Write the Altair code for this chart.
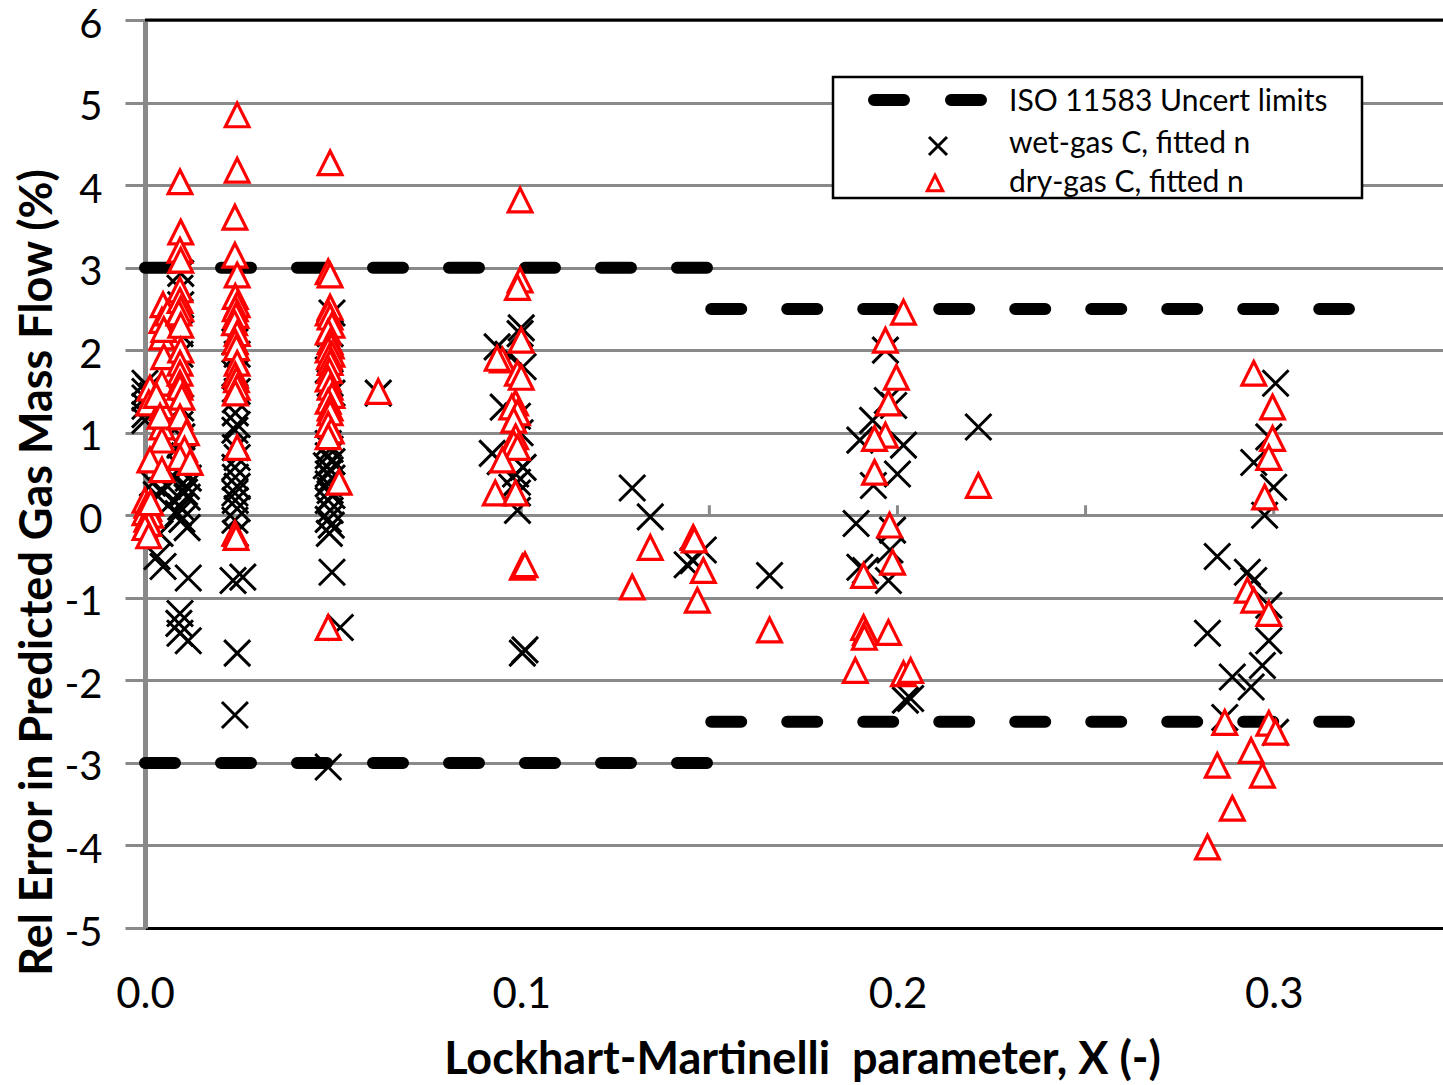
import altair as alt
import pandas as pd

# ---------------- data ----------------
wet_x = [
    0.0, 0.0, 0.0, 0.0, 0.0, 0.001, 0.002, 0.0,
    0.002, 0.0045, 0.0075, 0.0112, 0.0088, 0.0112, 0.004, 0.003, 0.006, 0.008,
    0.0032, 0.0048, 0.0115, 0.0093, 0.009, 0.0093, 0.0115,
    0.0095, 0.0093, 0.0095, 0.0093, 0.0093, 0.0095, 0.0093, 0.0098, 0.0093, 0.0105, 0.0095, 0.0115, 0.011, 0.0105, 0.0095, 0.0098,
    0.0239, 0.0245, 0.0239, 0.0245, 0.024, 0.024, 0.0245, 0.0239, 0.024, 0.0245, 0.0239, 0.024, 0.0245, 0.0239, 0.024, 0.0245, 0.0239, 0.024, 0.0234, 0.026, 0.0245, 0.0239,
    0.0497, 0.0492, 0.0487, 0.0492, 0.0497, 0.0487, 0.0492, 0.0487, 0.0497, 0.0482, 0.0492, 0.0487, 0.0497, 0.0487, 0.0492, 0.0497, 0.0487, 0.0492, 0.0487, 0.0495, 0.049, 0.0497, 0.0519, 0.0487, 0.062,
    0.1, 0.0997, 0.0936, 0.0965, 0.1005, 0.0952, 0.099, 0.0997, 0.0923, 0.0944, 0.1005, 0.0985, 0.099, 0.0975, 0.099, 0.099, 0.1003, 0.101,
    0.1295, 0.1343, 0.1441, 0.1457, 0.1484, 0.166,
    0.1968, 0.1973, 0.199, 0.1934, 0.190, 0.2016, 0.2, 0.1936, 0.189, 0.1987, 0.198, 0.190, 0.1915, 0.1976, 0.2021, 0.2035, 0.2215,
    0.3005, 0.2987, 0.2947, 0.3, 0.2976, 0.285, 0.293, 0.2947, 0.2987, 0.2824, 0.2987, 0.297, 0.289, 0.294, 0.287, 0.3005,
]
wet_y = [
    1.6, 1.5, 1.42, 1.32, 1.22, 1.55, 1.45, 1.15,
    0.39, 0.3, 0.18, 0.22, 0.02, -0.15, -0.22, 0.25, 0.35, 0.45,
    -0.5, -0.62, -0.76, -1.19, -1.31, -1.43, -1.52,
    2.93, 2.75, 2.55, 2.2, 1.95, 1.3, 1.1, 0.95, 0.85, 0.72, 0.58, 0.45, 0.35, 0.28, 0.1, -0.05,
    2.1, 1.95, 1.72, 1.5, 1.4, 1.24, 1.1, 1.03, 0.82, 0.7, 0.58, 0.46, 0.35, 0.27, 0.18, 0.08, -0.06, -0.22, -0.79, -0.75, -1.67, -2.42,
    2.45, 2.2, 1.76, 1.6, 1.48, 0.87, 0.8, 0.72, 0.65, 0.6, 0.55, 0.5, 0.45, 0.38, 0.3, 0.24, 0.18, 0.06, -0.05, -0.12, -0.22, -0.69, -1.36, -3.05, 1.48,
    2.27, 2.2, 2.04, 1.95, 1.8, 1.31, 1.2, 1.0, 0.75, 0.65, 0.58, 0.5, 0.4, 0.34, 0.27, 0.06, -1.67, -1.63,
    0.33, -0.02, -0.6, -0.55, -0.42, -0.73,
    2.0, 1.39, 1.33, 1.15, 0.91, 0.85, 0.5, 0.36, -0.1, -0.18, -0.42, -0.63, -0.67, -0.79, -2.24, -2.22, 1.07,
    1.6, 0.95, 0.64, 0.34, 0.0, -0.5, -0.69, -0.79, -1.09, -1.43, -1.52, -1.82, -1.96, -2.08, -2.45, -2.63,
]

dry_x = [
    0.0, 0.0005, 0.001, 0.0, 0.0015, 0.0005, 0.001, 0.0, 0.001, 0.0015,
    0.0013, 0.0045, 0.001, 0.0045, 0.0045, 0.0045, 0.0013, 0.0045, 0.003, 0.004, 0.0048, 0.0045, 0.0045, 0.005, 0.006, 0.005,
    0.0093, 0.0095, 0.0093, 0.0095, 0.0093, 0.0093, 0.0095, 0.009, 0.0095, 0.0095, 0.0093, 0.0093, 0.0093, 0.0093, 0.0098, 0.0093, 0.011, 0.0105, 0.0093, 0.012,
    0.0245, 0.0245, 0.0239, 0.0239, 0.0245, 0.024, 0.0245, 0.024, 0.0242, 0.0238, 0.0245, 0.024, 0.0243, 0.0245, 0.024, 0.0243, 0.0245, 0.024, 0.0245, 0.0239, 0.0242,
    0.0492, 0.0487, 0.0492, 0.0492, 0.0487, 0.0492, 0.0497, 0.0487, 0.0492, 0.0495, 0.0487, 0.0497, 0.049, 0.0492, 0.049, 0.0487, 0.0492, 0.0497, 0.0487, 0.0492, 0.0492, 0.0487, 0.0495, 0.0487, 0.0516, 0.0487, 0.062,
    0.0997, 0.0997, 0.099, 0.1, 0.095, 0.0936, 0.099, 0.1, 0.0985, 0.0975, 0.099, 0.098, 0.0985, 0.098, 0.099, 0.095, 0.0931, 0.0985, 0.1003, 0.101,
    0.1343, 0.1295, 0.1457, 0.146, 0.1484, 0.1468, 0.166,
    0.2016, 0.1968, 0.1997, 0.1976, 0.1968, 0.1939, 0.1939, 0.1979, 0.1987, 0.191, 0.191, 0.1915, 0.1912, 0.1976, 0.1888, 0.2016, 0.2035, 0.2215,
    0.2947, 0.2997, 0.2997, 0.2987, 0.2976, 0.293, 0.2947, 0.2987, 0.287, 0.2987, 0.3005, 0.294, 0.285, 0.297, 0.289, 0.2824,
]
dry_y = [
    0.18, 0.12, 0.08, 0.03, 0.0, -0.05, -0.1, -0.15, -0.25, 0.15,
    1.54, 1.6, 1.36, 1.31, 1.07, 0.91, 0.67, 0.55, 1.45, 1.2, 2.55, 2.36, 2.16, 1.92, 2.45, 2.25,
    4.04, 3.43, 3.21, 3.09, 2.73, 2.6, 2.5, 2.45, 2.3, 2.0, 1.84, 1.72, 1.6, 1.55, 1.43, 1.19, 1.0, 0.8, 0.7, 0.64,
    4.85, 4.18, 3.61, 3.15, 2.91, 2.65, 2.55, 2.5, 2.42, 2.33, 2.2, 2.1, 2.03, 1.84, 1.7, 1.64, 1.55, 1.48, 0.82, -0.22, -0.27,
    4.27, 2.95, 2.91, 2.52, 2.45, 2.4, 2.3, 2.22, 2.1, 2.05, 2.0, 1.95, 1.92, 1.85, 1.75, 1.65, 1.55, 1.45, 1.38, 1.3, 1.24, 1.1, 1.02, 0.95, 0.4, -1.36, 1.5,
    3.82, 2.85, 2.76, 2.12, 1.88, 1.9, 1.72, 1.67, 1.36, 1.31, 1.24, 1.15, 0.95, 0.87, 0.82, 0.67, 0.27, 0.27, -0.63, -0.6,
    -0.39, -0.87, -0.27, -0.3, -0.67, -1.03, -1.39,
    2.46, 2.12, 1.67, 1.36, 0.97, 0.93, 0.52, -0.12, -0.57, -0.73, -1.36, -1.42, -1.48, -1.42, -1.88, -1.92, -1.88, 0.36,
    1.72, 1.31, 0.93, 0.7, 0.22, -0.91, -1.03, -1.19, -2.51, -2.52, -2.63, -2.85, -3.03, -3.15, -3.55, -4.02,
]

iso_x_start = [0.0, 0.0, 0.1505, 0.1505]
iso_x_end = [0.15, 0.15, 0.32, 0.32]
iso_y = [3.0, -3.0, 2.5, -2.5]

y_tick_values = [-5, -4, -3, -2, -1, 0, 1, 2, 3, 4, 5, 6]
x_label_values = [0.0, 0.1, 0.2, 0.3]
x_minor_ticks = [0.05, 0.1, 0.15, 0.2, 0.25, 0.3]
legend_labels = ["ISO 11583 Uncert limits", "wet-gas C, fitted n", "dry-gas C, fitted n"]
x_title = "Lockhart-Martinelli\u00a0 parameter, X (-)"
y_title = "Rel Error in Predicted Gas Mass Flow (%)"

# ---------------- styling ----------------
FONT = "Lato"
GRAY = "#898989"
X_PATH = "M-1,-1L1,1M-1,1L1,-1"
TRI_PATH = "M0,-1L1,1L-1,1Z"
W, H = 1298, 908

wet = pd.DataFrame({"x": wet_x, "y": wet_y})
dry = pd.DataFrame({"x": dry_x, "y": dry_y})
iso = pd.DataFrame({"x": iso_x_start, "x2": iso_x_end, "y": iso_y})
minor = pd.DataFrame({"x": x_minor_ticks, "y": [0.0] * len(x_minor_ticks)})
one = pd.DataFrame({"a": [0]})

xscale = alt.Scale(domain=[0, 0.345], nice=False, zero=False)
yscale = alt.Scale(domain=[-5, 6], nice=False, zero=False)

xaxis = alt.Axis(
    values=x_label_values, labelExpr="format(datum.value, '.1f')", grid=False, ticks=False,
    domainColor="black", domainWidth=3, labelFontSize=42, labelPadding=46, labelFlush=False,
    labelColor="black", title=x_title, titleFontSize=45, titleFontWeight="bold",
    titleColor="black", titleX=657, titleY=145, titleBaseline="alphabetic",
)
yaxis = alt.Axis(
    values=y_tick_values, labelExpr="'' + datum.value", grid=True, gridColor=GRAY, gridWidth=3,
    tickColor=GRAY, tickWidth=3, tickSize=20, domainColor=GRAY, domainWidth=5,
    labelFontSize=40, labelPadding=23, labelOffset=5, labelColor="black", title=y_title,
    titleFontSize=45, titleFontWeight="bold", titleColor="black", titleX=-94, titleY=552,
    titleBaseline="alphabetic", titleAngle=270,
)

iso_layer = alt.Chart(iso).mark_rule(
    color="black", strokeWidth=12, strokeDash=[30, 46], strokeCap="round"
).encode(
    x=alt.X("x:Q", scale=xscale, axis=xaxis),
    x2="x2:Q",
    y=alt.Y("y:Q", scale=yscale, axis=yaxis),
)

minor_layer = alt.Chart(minor).mark_tick(
    orient="vertical", size=10, thickness=3, color=GRAY, yOffset=-5, opacity=1
).encode(x=alt.X("x:Q", scale=xscale), y=alt.Y("y:Q", scale=yscale))

top_line = alt.Chart(one).mark_rule(color="black", strokeWidth=3).encode(
    x=alt.value(0), x2=alt.value(W), y=alt.value(0)
)

wet_layer = alt.Chart(wet).mark_point(
    shape=X_PATH, size=676, filled=False, stroke="black", strokeWidth=3, opacity=1
).encode(x=alt.X("x:Q", scale=xscale), y=alt.Y("y:Q", scale=yscale))

dry_layer = alt.Chart(dry).mark_point(
    shape=TRI_PATH, size=560, filled=True, fill="white", stroke="red", strokeWidth=3.2, opacity=1
).encode(x=alt.X("x:Q", scale=xscale), y=alt.Y("y:Q", scale=yscale))

# ---------------- legend (drawn box) ----------------
leg_box = alt.Chart(one).mark_rect(fill="white", stroke="black", strokeWidth=2.5).encode(
    x=alt.value(688), x2=alt.value(1217), y=alt.value(57), y2=alt.value(178)
)
leg_dash = alt.Chart(one).mark_rule(
    color="black", strokeWidth=12, strokeDash=[30, 47], strokeCap="round"
).encode(x=alt.value(729), x2=alt.value(836), y=alt.value(80))
leg_x = alt.Chart(one).mark_point(
    shape=X_PATH, size=324, filled=False, stroke="black", strokeWidth=3, opacity=1
).encode(x=alt.value(793), y=alt.value(126))
leg_tri = alt.Chart(one).mark_point(
    shape=TRI_PATH, size=240, filled=True, fill="white", stroke="red", strokeWidth=3, opacity=1
).encode(x=alt.value(790), y=alt.value(163))
leg_rows_y = [82, 124, 163]
leg_texts = [
    alt.Chart(one).mark_text(align="left", baseline="middle", fontSize=30, font=FONT, color="black")
    .encode(x=alt.value(864), y=alt.value(yy), text=alt.value(lbl))
    for lbl, yy in zip(legend_labels, leg_rows_y)
]

chart = alt.layer(
    iso_layer, minor_layer, top_line, wet_layer, dry_layer,
    leg_box, leg_dash, leg_x, leg_tri, *leg_texts,
).properties(
    width=W, height=H,
    autosize=alt.AutoSizeParams(type="none"),
    padding={"left": 145, "top": 20, "right": 0, "bottom": 157},
).configure_view(stroke=None).configure_axis(
    labelFont=FONT, titleFont=FONT
).configure_text(font=FONT)

chart.save("out.html", embed_options={"renderer": "svg", "actions": False})
